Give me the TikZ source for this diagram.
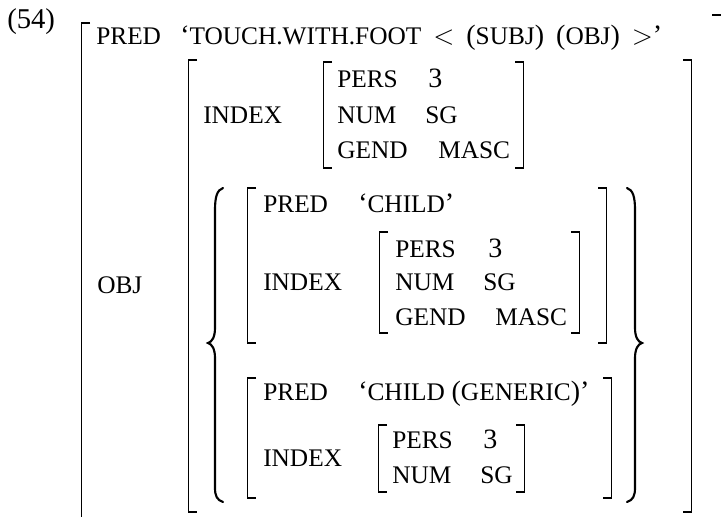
\documentclass[tikz,border=0pt]{standalone}
\usepackage{fontspec}
\setmainfont{Liberation Serif}
% punctuation at full size, letters as small capitals
\newcommand{\punc}[1]{{\fontsize{21}{25}\selectfont #1}}

\tikzset{
  attr/.style={anchor=base west, inner sep=0pt, font=\fontsize{19}{22}\selectfont},
  numval/.style={anchor=base west, inner sep=0pt, font=\fontsize{21}{25}\selectfont},
  brk/.style={line width=1.1pt},
  brace/.style={line width=1.6pt, line cap=round}
}

\begin{document}
\begin{tikzpicture}[x=0.75pt,y=0.75pt,yscale=-1,xscale=1]
\useasboundingbox (0,0) rectangle (721,517);

%Outer Bracket
\draw [brk]   (90,23) -- (81.5,23) -- (81.5,522) ;
\draw [brk]   (712,15) -- (721,15) ;
%OBJ Bracket
\draw [brk]   (197,60) -- (188.5,60) -- (188.5,512) -- (197,512) ;
\draw [brk]   (683,60) -- (691.5,60) -- (691.5,512) -- (683,512) ;
%Index Bracket 1
\draw [brk]   (332,62) -- (323.5,62) -- (323.5,168) -- (332,168) ;
\draw [brk]   (515,62) -- (523.5,62) -- (523.5,168) -- (515,168) ;
%Child Bracket
\draw [brk]   (256,188) -- (247.5,188) -- (247.5,343) -- (256,343) ;
\draw [brk]   (598,188) -- (606.5,188) -- (606.5,343) -- (598,343) ;
%Index Bracket 2
\draw [brk]   (388,232) -- (379.5,232) -- (379.5,333) -- (388,333) ;
\draw [brk]   (571,232) -- (579.5,232) -- (579.5,333) -- (571,333) ;
%Generic Bracket
\draw [brk]   (256,378) -- (247.5,378) -- (247.5,498) -- (256,498) ;
\draw [brk]   (603,378) -- (611.5,378) -- (611.5,498) -- (603,498) ;
%Index Bracket 3
\draw [brk]   (387,425) -- (378.5,425) -- (378.5,492) -- (387,492) ;
\draw [brk]   (516,425) -- (524.5,425) -- (524.5,492) -- (516,492) ;
%Curly Braces
\draw [brace]   (223,188) .. controls (217,190) and (215,197) .. (215,210) -- (215,328) .. controls (215,337) and (212,342) .. (208,343) .. controls (212,344) and (215,349) .. (215,358) -- (215,488) .. controls (215,496) and (217,500) .. (223,502) ;
\draw [brace]   (627,188) .. controls (633,190) and (635,197) .. (635,210) -- (635,328) .. controls (635,337) and (638,342) .. (642,343) .. controls (638,344) and (635,349) .. (635,358) -- (635,488) .. controls (635,496) and (633,500) .. (627,502) ;

% Text Node
\draw (7,29) node (ex) [anchor=base west][inner sep=0pt][font=\fontsize{21.5}{25}\selectfont] {(54)};
% Text Node
\draw (96,45) node (predA) [attr] {PRED};
% Text Node
\draw (180,45) node (touch) [attr] {\punc{‘}TOUCH.WITH.FOOT\hspace{9pt}\punc{$<$}\hspace{9pt}\punc{(}SUBJ\punc{)}\hspace{9pt}\punc{(}OBJ\punc{)}\hspace{9pt}\punc{$>$}\punc{’}};
% Text Node
\draw (97,293) node (obj) [attr] {OBJ};
% Text Node
\draw (203,123) node (indexA) [attr] {INDEX};
% Text Node
\draw (337,88) node (persA) [attr] {PERS};
% Text Node
\draw (428,88) node (threeA) [numval] {3};
% Text Node
\draw (337,123) node (numA) [attr] {NUM};
% Text Node
\draw (425,123) node (sgA) [attr] {SG};
% Text Node
\draw (337,158) node (gendA) [attr] {GEND};
% Text Node
\draw (438,158) node (mascA) [attr] {MASC};
% Text Node
\draw (263,212) node (predB) [attr] {PRED};
% Text Node
\draw (358,212) node (childB) [attr] {\punc{‘}CHILD\punc{’}};
% Text Node
\draw (263,290) node (indexB) [attr] {INDEX};
% Text Node
\draw (395,257) node (persB) [attr] {PERS};
% Text Node
\draw (488,257) node (threeB) [numval] {3};
% Text Node
\draw (395,290) node (numB) [attr] {NUM};
% Text Node
\draw (483,290) node (sgB) [attr] {SG};
% Text Node
\draw (395,325) node (gendB) [attr] {GEND};
% Text Node
\draw (495,325) node (mascB) [attr] {MASC};
% Text Node
\draw (263,400) node (predC) [attr] {PRED};
% Text Node
\draw (358,400) node (childC) [attr] {\punc{‘}CHILD\hspace{5pt}\punc{(}GENERIC\punc{)}\punc{’}};
% Text Node
\draw (263,466) node (indexC) [attr] {INDEX};
% Text Node
\draw (392,448) node (persC) [attr] {PERS};
% Text Node
\draw (483,448) node (threeC) [numval] {3};
% Text Node
\draw (392,483) node (numC) [attr] {NUM};
% Text Node
\draw (480,483) node (sgC) [attr] {SG};

\end{tikzpicture}
\end{document}
